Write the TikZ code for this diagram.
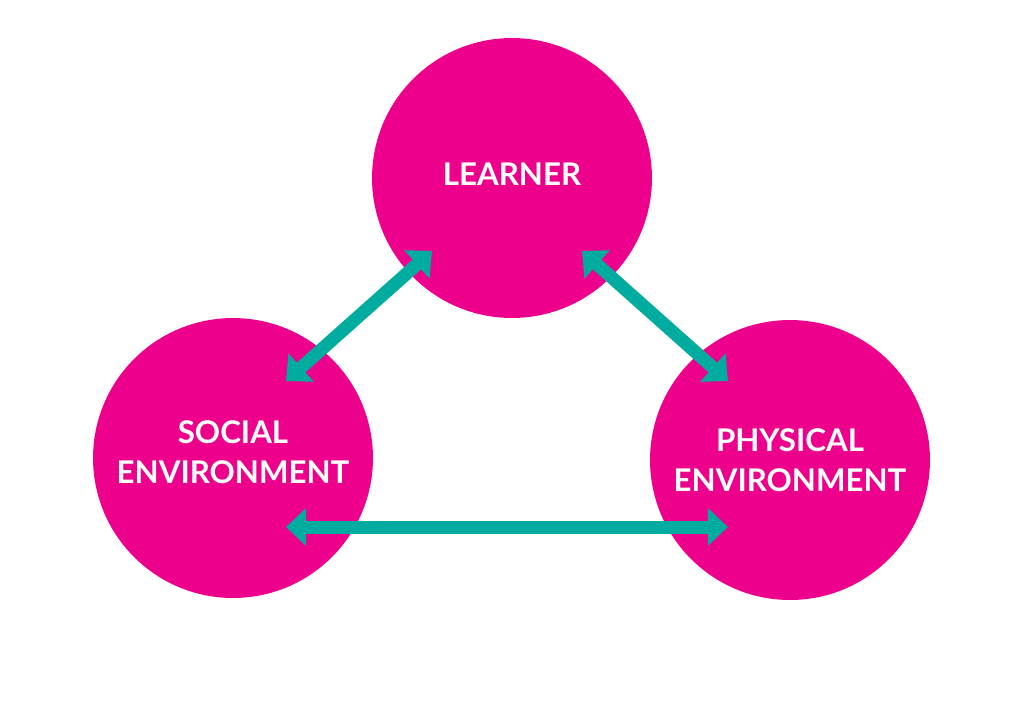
\documentclass[tikz,border=0pt]{standalone}
\usepackage{fontspec}
\setmainfont{Lato}
\usepackage{xcolor}
\usepackage{tikz}
\usetikzlibrary{arrows.meta, positioning}
\definecolor{pinkfill}{RGB}{236,0,140}
\definecolor{tealline}{RGB}{0,172,160}
\tikzstyle{arrow}  = [line width=7.4pt, tealline, {Triangle[width=21pt,length=11.5pt]}-{Triangle[width=21pt,length=11.5pt]}]
\tikzstyle{circ}   = [circle, fill=pinkfill, minimum size=5.6cm, inner sep=0pt, text=white, font=\fontsize{17.8}{22.5}\selectfont\bfseries]
\tikzset{every node/.style={align=center}}

\begin{document}
\begin{tikzpicture}[x=0.02cm, y=-0.02cm]
    \useasboundingbox (0,0) rectangle (1024,704);
    \node (learner)  at (512,178) [circ] {LEARNER\\[-18pt]};
    \node (social)   at (233,458) [circ] {SOCIAL\\ENVIRONMENT\\[-15.7pt]};
    \node (physical) at (790,460) [circ] {PHYSICAL\\ENVIRONMENT};

    \coordinate (ls) at (432,251);
    \coordinate (sl) at (286,381);
    \coordinate (lp) at (582,251);
    \coordinate (pl) at (728,381);
    \coordinate (sp) at (286,527);
    \coordinate (ps) at (728,527);

    \draw [arrow] (ls) -- (sl);
    \draw [arrow] (lp) -- (pl);
    \draw [arrow] (sp) -- (ps);
\end{tikzpicture}
\end{document}
